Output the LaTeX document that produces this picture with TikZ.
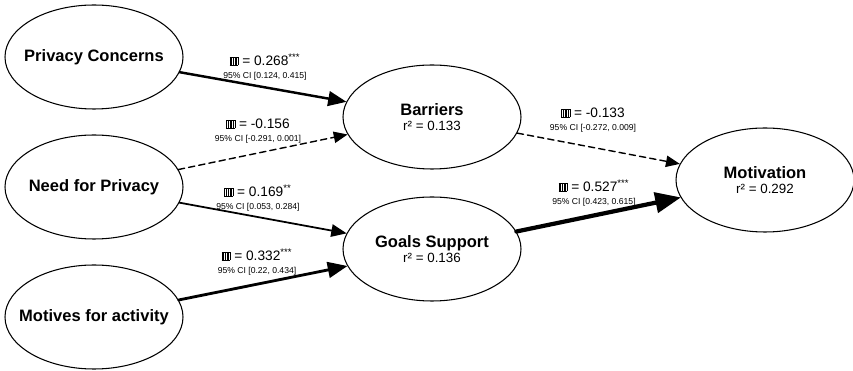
\documentclass[tikz,border=0pt]{standalone}
\usepackage{fontspec}
\setmainfont{Liberation Sans}
\usepackage{tikz}
\usetikzlibrary{shapes.geometric}
\usetikzlibrary{arrows}

\newcommand{\titlesize}{\fontsize{9.4}{11}\selectfont}
\newcommand{\rsqsize}{\fontsize{7.6}{8.6}\selectfont}
\newcommand{\coefsize}{\fontsize{7.8}{8}\selectfont}
\newcommand{\cisize}{\fontsize{4.9}{7.2}\selectfont}
\newcommand{\bglyph}{\raisebox{0.05em}{\setlength{\fboxsep}{0pt}\setlength{\fboxrule}{0.3pt}\fbox{\rule{0pt}{0.55em}\hspace{0.1em}\rule{0.15pt}{0.55em}\hspace{0.1em}\rule{0.15pt}{0.55em}\hspace{0.1em}\rule{0.15pt}{0.55em}\hspace{0.1em}\rule{0.15pt}{0.55em}\hspace{0.1em}}}}
\newcommand{\coef}[2]{{\coefsize\bglyph{} = #1}\\95\% CI [#2]}

\begin{document}
\begin{tikzpicture}[line cap=round,line join=round,>=triangle 45,x=1cm,y=1cm,
  construct/.style={ellipse,draw,line width=0.6pt,inner xsep=-0.6cm,inner ysep=0pt,minimum width=3.56cm,minimum height=2.08cm,align=center,font=\rsqsize},
  coeflabel/.style={align=center,inner sep=0pt,font=\cisize},
  dashedpath/.style={dash pattern=on 3.6pt off 2.3pt,line width=0.8pt}]
\useasboundingbox (0,0) rectangle (17.06,7.42);

\node[construct] (pc) at (1.88,6.28) {\titlesize\bfseries Privacy Concerns};
\node[construct] (np) at (1.88,3.68) {\titlesize\bfseries Need for Privacy};
\node[construct] (ma) at (1.88,1.08) {\titlesize\bfseries Motives for activity};
\node[construct] (bar) at (8.64,5.08) {{\titlesize\bfseries Barriers}\\r² = 0.133};
\node[construct] (gs) at (8.64,2.44) {{\titlesize\bfseries Goals Support}\\r² = 0.136};
\node[construct] (mot) at (15.30,3.82) {{\titlesize\bfseries Motivation}\\r² = 0.292};

\draw [->,line width=1.4pt] (pc) -- (bar);
\draw [->,dashedpath] (np) -- (bar);
\draw [->,line width=1pt] (np) -- (gs);
\draw [->,line width=1.6pt] (ma) -- (gs);
\draw [->,dashedpath] (bar) -- (mot);
\draw [->,line width=2.4pt] (gs) -- (mot);

\node[coeflabel] (l1) at (5.30,6.08) {\coef{0.268\textsuperscript{***}}{0.124, 0.415}};
\node[coeflabel] (l2) at (5.16,4.80) {\coef{-0.156}{-0.291, 0.001}};
\node[coeflabel] (l3) at (5.16,3.46) {\coef{0.169\textsuperscript{**}}{0.053, 0.284}};
\node[coeflabel] (l4) at (5.14,2.18) {\coef{0.332\textsuperscript{***}}{0.22, 0.434}};
\node[coeflabel] (l5) at (11.86,5.02) {\coef{-0.133}{-0.272, 0.009}};
\node[coeflabel] (l6) at (11.88,3.56) {\coef{0.527\textsuperscript{***}}{0.423, 0.615}};
\end{tikzpicture}
\end{document}
